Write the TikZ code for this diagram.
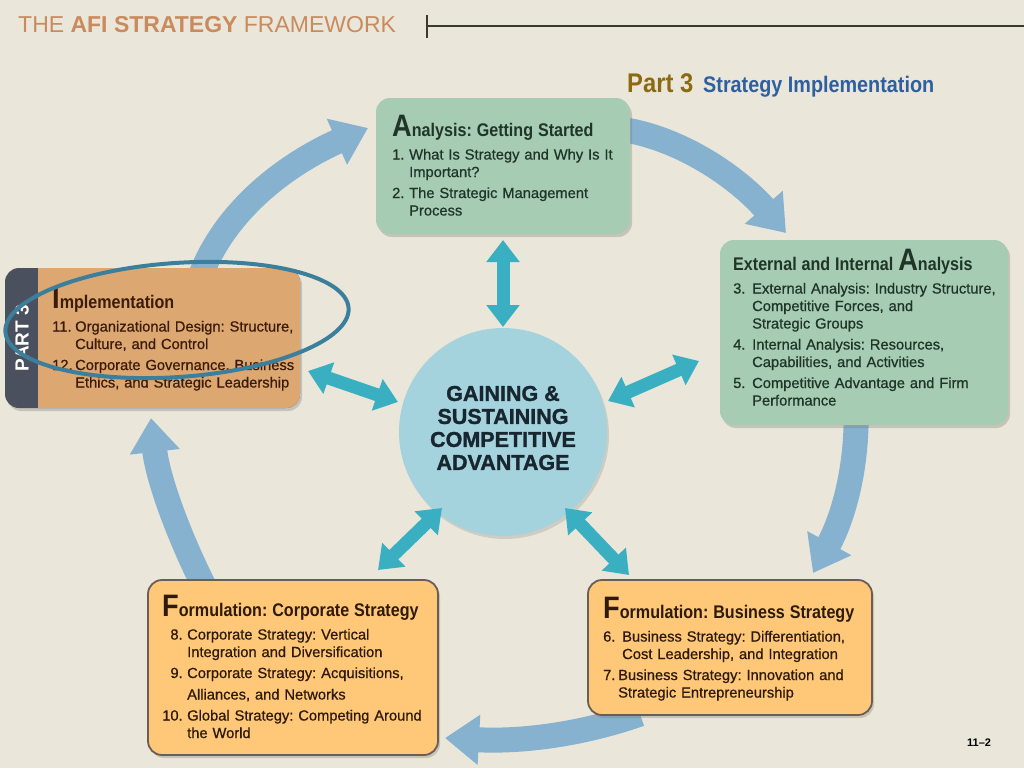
\documentclass[tikz,border=0pt]{standalone}
\usepackage{fontspec}
\setmainfont{Liberation Sans}
\newfontfamily\condfont{Liberation Sans}[FakeStretch=0.88]
\newfontfamily\itemfont{Liberation Sans}[FakeBold=0.7]
\newfontfamily\heavyfont{Liberation Sans}[BoldFeatures={FakeBold=1.4}]
\usetikzlibrary{arrows.meta,shadows}
\definecolor{bg}{HTML}{EAE7DA}
\definecolor{titlec}{HTML}{C98A5E}
\definecolor{gfill}{HTML}{A6CCB3}
\definecolor{gtext}{HTML}{1F3526}
\definecolor{ofill}{HTML}{DDA772}
\definecolor{otext}{HTML}{3A1C08}
\definecolor{yfill}{HTML}{FEC878}
\definecolor{yborder}{HTML}{6B5E55}
\definecolor{ytext}{HTML}{2E1A0A}
\definecolor{stripc}{HTML}{4B505E}
\definecolor{circc}{HTML}{A4D3DE}
\definecolor{tealc}{HTML}{3AAFC2}
\definecolor{bigarr}{HTML}{86B1CF}
\definecolor{ringc}{HTML}{3B7F9C}
\definecolor{partc}{HTML}{8C6A12}
\definecolor{stratc}{HTML}{2E5F9E}
\definecolor{circtext}{HTML}{18262F}
\definecolor{headline}{HTML}{3A3A30}
\newlength\hng
\newcommand\itm[3][\hng]{\par\vspace{2.5pt}\noindent\makebox[#1][l]{#2}\begin{tabular}[t]{@{}l@{}}#3\end{tabular}}
\newcommand\ritm[3][\hng]{\par\vspace{2.5pt}\noindent\makebox[#1][r]{#2\hspace{4.5pt}}\begin{tabular}[t]{@{}l@{}}#3\end{tabular}}
\newcommand\bigini[1]{{\fontsize{31}{31}\selectfont #1}}
\newcommand\hd[1]{{\condfont\bfseries\fontsize{18.3}{20}\selectfont #1}\par\vspace{3pt}}
\frenchspacing
\begin{document}
\begin{tikzpicture}[x=1pt,y=-1pt,
  panel/.style={rounded corners=14pt, inner sep=0pt,
    drop shadow={shadow xshift=2pt,shadow yshift=-3pt,opacity=0.35}},
  ypanel/.style={panel, fill=yfill, draw=yborder, line width=1.8pt},
  boxtxt/.style={anchor=north west, inner sep=0pt, text width=290pt, align=left,
    font=\itemfont\fontsize{14.7}{17.5}\selectfont},
  bigarrow/.style={draw=bigarr, line width=25pt,
    -{Triangle[width=48pt,length=34pt]}},
  dblarrow/.style={draw=tealc, line width=13pt,
    {Triangle[width=32pt,length=22pt]}-{Triangle[width=32pt,length=22pt]}},
]
\useasboundingbox (0,0) rectangle (1024,768);
\fill[bg] (0,0) rectangle (1024,768);

% header
\node[anchor=base west, inner sep=0pt, text=titlec, font=\fontsize{23}{23}\selectfont] (title) at (18,33) {THE \textbf{AFI STRATEGY} FRAMEWORK};
\coordinate (hl1) at (427,15);
\coordinate (hl2) at (427,38);
\coordinate (hl3) at (427,26);
\coordinate (hl4) at (1024,26);
\draw[headline, line width=1.2pt] (hl1) -- (hl2);
\draw[headline, line width=1.2pt] (hl3) -- (hl4);
\node[anchor=base west, inner sep=0pt, text=partc, font=\condfont\bfseries\fontsize{27}{27}\selectfont] (part) at (627,92) {Part 3};
\node[anchor=base west, inner sep=0pt, text=stratc, font=\condfont\bfseries\fontsize{22.5}{22.5}\selectfont] (strat) at (703,92) {Strategy Implementation};

% big cycle arrows
\coordinate (a1s) at (195,292);
\coordinate (a1e) at (368,128);
\coordinate (a2s) at (612,128);
\coordinate (a2e) at (786,233);
\coordinate (a3s) at (856,405);
\coordinate (a3e) at (813,573);
\coordinate (a4s) at (640,714);
\coordinate (a4e) at (445,738);
\coordinate (a5s) at (210,598);
\coordinate (a5e) at (151,418);
\draw[bigarrow] (a1s) .. controls (220,205) and (300,158) .. (a1e);
\draw[bigarrow] (a2s) .. controls (680,135) and (740,180) .. (a2e);
\draw[bigarrow] (a3s) .. controls (858,470) and (842,520) .. (a3e);
\draw[bigarrow] (a4s) .. controls (580,735) and (520,742) .. (a4e);
\draw[bigarrow] (a5s) .. controls (180,540) and (158,480) .. (a5e);

% boxes
\node[panel, fill=gfill, minimum width=254pt, minimum height=136pt] (ana) at (503,166) {};
\node[panel, fill=gfill, minimum width=288pt, minimum height=185pt] (ext) at (864,332.5) {};
\node[panel, fill=stripc, minimum width=295pt, minimum height=140pt] (imp) at (152.5,338) {};
\begin{scope}
  \clip[rounded corners=14pt] (5,268) rectangle (300,408);
  \fill[ofill] (38,268) rectangle (300,408);
\end{scope}
\node[ypanel, minimum width=290pt, minimum height=175pt] (corp) at (293,667.5) {};
\node[ypanel, minimum width=284pt, minimum height=135pt] (bus) at (730,647.5) {};

% box texts
\setlength\hng{17pt}
\node[boxtxt, text=gtext] (anatxt) at (392,115) {%
  \hd{\bigini{A}nalysis: Getting Started}
  \itm{1.}{What Is Strategy and Why Is It\\Important?}
  \itm{2.}{The Strategic Management\\Process}};

\node[boxtxt, text=gtext] (exttxt) at (733,249) {%
  \hd{External and Internal \bigini{A}nalysis}
  \itm[19pt]{3.}{External Analysis: Industry Structure,\\Competitive Forces, and\\Strategic Groups}
  \itm[19pt]{4.}{Internal Analysis: Resources,\\Capabilities, and Activities}
  \itm[19pt]{5.}{Competitive Advantage and Firm\\Performance}};

\node[boxtxt, text=otext] (imptxt) at (52,287) {%
  \hd{\bigini{I}mplementation}
  \itm[23pt]{11.}{Organizational Design: Structure,\\Culture, and Control}
  \itm[23pt]{12.}{Corporate Governance, Business\\Ethics, and Strategic Leadership}};

\node[boxtxt, text=ytext] (corptxt) at (162,595) {%
  \hd{\bigini{F}ormulation: Corporate Strategy}
  \ritm[25pt]{8.}{Corporate Strategy: Vertical\\Integration and Diversification}
  \ritm[25pt]{9.}{Corporate Strategy: Acquisitions,\\[4pt]Alliances, and Networks}
  \ritm[25pt]{10.}{Global Strategy: Competing Around\\the World}};

\node[boxtxt, text=ytext] (bustxt) at (603,597) {%
  \hd{\bigini{F}ormulation: Business Strategy}
  \itm[19pt]{6.}{Business Strategy: Differentiation,\\Cost Leadership, and Integration}
  \itm[15pt]{7.}{Business Strategy: Innovation and\\Strategic Entrepreneurship}};

% PART 3 strip label
\node[rotate=90, text=white, inner sep=0pt, font=\bfseries\fontsize{19}{19}\selectfont] (partlbl) at (22,338) {PART 3};

% centre circle
\node[circle, fill=circc, minimum size=208pt, inner sep=0pt,
  drop shadow={shadow xshift=2pt,shadow yshift=-3pt,opacity=0.25}] (core) at (503,432) {};
\node[align=center, text=circtext, inner sep=0pt, font=\heavyfont\bfseries\fontsize{21.5}{23}\selectfont] (coretxt) at (503,428) {GAINING \&\\SUSTAINING\\COMPETITIVE\\ADVANTAGE};

% double arrows
\coordinate (d1a) at (503,240);
\coordinate (d1b) at (503,327);
\coordinate (d2a) at (308,371);
\coordinate (d2b) at (398,402);
\coordinate (d3a) at (608,401);
\coordinate (d3b) at (699,361);
\coordinate (d4a) at (378,570);
\coordinate (d4b) at (442,508);
\coordinate (d5a) at (565,508);
\coordinate (d5b) at (629,575);
\draw[dblarrow] (d1a) -- (d1b);
\draw[dblarrow] (d2a) -- (d2b);
\draw[dblarrow] (d3a) -- (d3b);
\draw[dblarrow] (d4a) -- (d4b);
\draw[dblarrow] (d5a) -- (d5b);

% highlight ellipse
\coordinate (ec) at (177,320);
\draw[ringc, line width=4pt, rotate around={4:(ec)}] (ec) ellipse [x radius=172pt, y radius=57pt];

% page number
\node[anchor=base west, inner sep=0pt, font=\bfseries\fontsize{11}{11}\selectfont] (pg) at (967,746) {11--2};
\end{tikzpicture}
\end{document}
